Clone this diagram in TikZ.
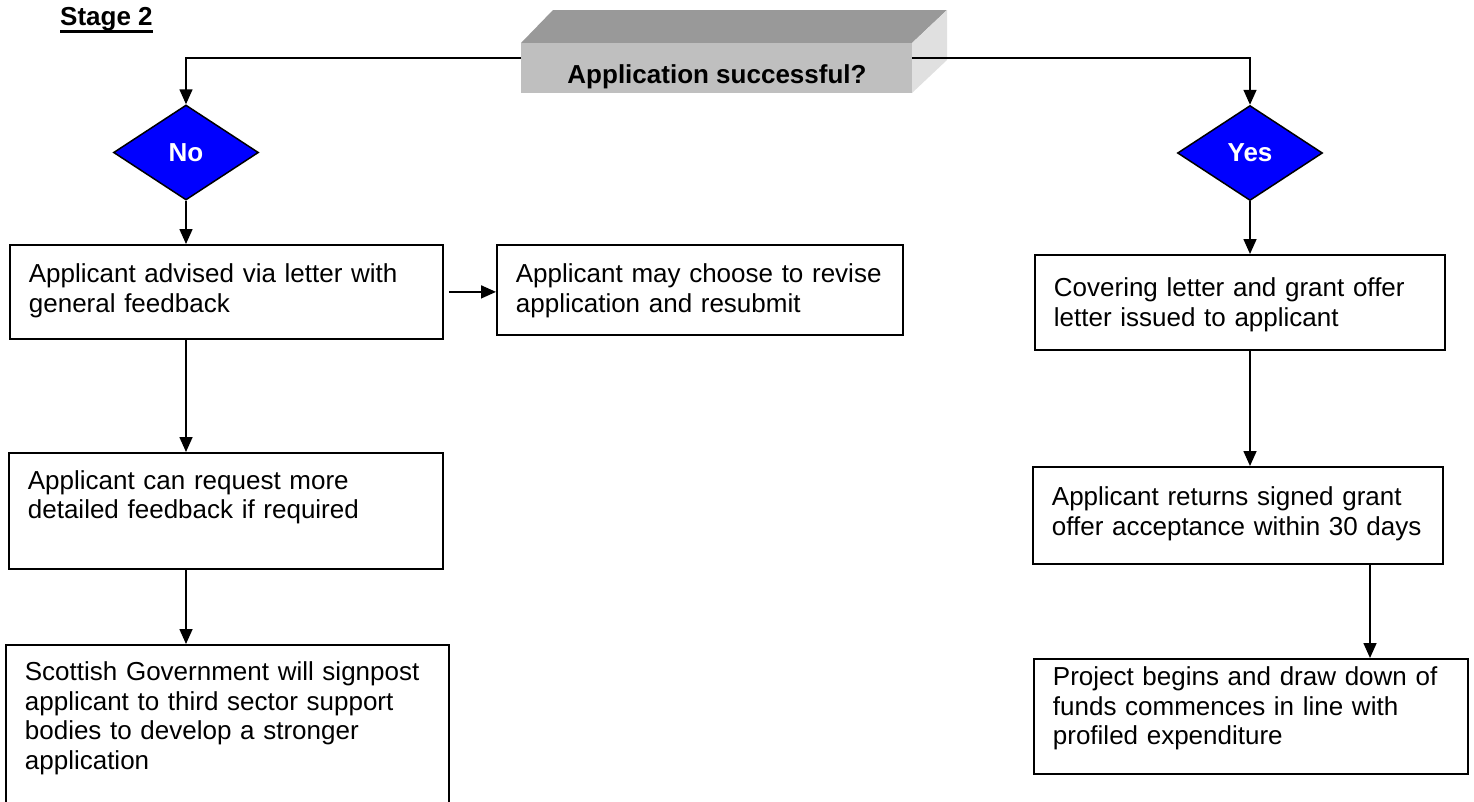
\documentclass[tikz,border=0pt]{standalone}
\usepackage{fontspec}
\setmainfont{Liberation Sans}
\usetikzlibrary{arrows.meta,shapes.geometric}

\tikzset{
  stagebox/.style={draw, line width=1.8pt, anchor=north west, align=left,
    inner xsep=19pt, inner ysep=0pt, font=\fontsize{26}{29.5}\selectfont},
  choice/.style={diamond, draw, line width=1.5pt, fill=blue, text=white,
    font=\fontsize{26}{29.5}\selectfont\bfseries,
    minimum width=145pt, minimum height=95pt, inner sep=0pt},
  link/.style={line width=1.6pt, -{Triangle[length=15pt,width=13pt]}},
}

\begin{document}
\begin{tikzpicture}[x=1pt,y=-1pt]
\useasboundingbox (0,0) rectangle (1474,801);

% heading
\node[anchor=base west, inner sep=0pt, font=\fontsize{26}{29.5}\selectfont\bfseries] (stage) at (60,25) {Stage 2};
\draw[line width=2.6pt] ([yshift=-6.5pt]stage.base west) -- ([yshift=-6.5pt]stage.base east);

% question block
\fill[black!40] (521,43) -- (553,10) -- (947,10) -- (912,43) -- cycle;
\fill[black!25] (521,43) rectangle (912,93);
\fill[black!12] (912,43) -- (947,10) -- (947,60) -- (912,93) -- cycle;
\node[anchor=base, font=\fontsize{26}{29.5}\selectfont\bfseries] (question) at (717,83) {Application successful?};
\coordinate (qleft) at (521,58);
\coordinate (qright) at (912,58);

% answers
\node[choice] (no) at (186,152.5) {No};
\node[choice] (yes) at (1250,153) {Yes};

% no branch
\node[stagebox, text width=395pt, text height=38pt, text depth=56pt] (advised) at (9,244)
  {Applicant advised via letter with\\general feedback};
\node[stagebox, text width=368pt, text height=38pt, text depth=52pt] (revise) at (496,244)
  {Applicant may choose to revise\\application and resubmit};
\node[stagebox, text width=396pt, text height=36.5pt, text depth=79.5pt] (request) at (8,452)
  {Applicant can request more\\detailed feedback if required};
\node[stagebox, text width=405pt, text height=36pt, text depth=140pt] (signpost) at (5,644)
  {Scottish Government will signpost\\applicant to third sector support\\bodies to develop a stronger\\application};

% yes branch
\node[stagebox, text width=372pt, text height=42pt, text depth=53pt] (covering) at (1034,254)
  {Covering letter and grant offer\\letter issued to applicant};
\node[stagebox, text width=372pt, text height=39pt, text depth=58pt] (returns) at (1032,466)
  {Applicant returns signed grant\\offer acceptance within 30 days};
\node[stagebox, text width=396pt, text height=27pt, text depth=88pt] (project) at (1033,658)
  {Project begins and draw down of\\funds commences in line with\\profiled expenditure};
\coordinate (drop) at (1370,0);

% connectors
\draw[link] (qleft) -| (no.north);
\draw[link] (qright) -| (yes.north);
\draw[link] (no.south) -- (advised.north -| no.south);
\draw[link, shorten <=5pt] (advised.east) -- (advised.east -| revise.west);
\draw[link] (advised.south -| no.south) -- (request.north -| no.south);
\draw[link] (request.south -| no.south) -- (signpost.north -| no.south);
\draw[link] (yes.south) -- (covering.north -| yes.south);
\draw[link] (covering.south -| yes.south) -- (returns.north -| yes.south);
\draw[link] (returns.south -| drop) -- (project.north -| drop);
\end{tikzpicture}
\end{document}
